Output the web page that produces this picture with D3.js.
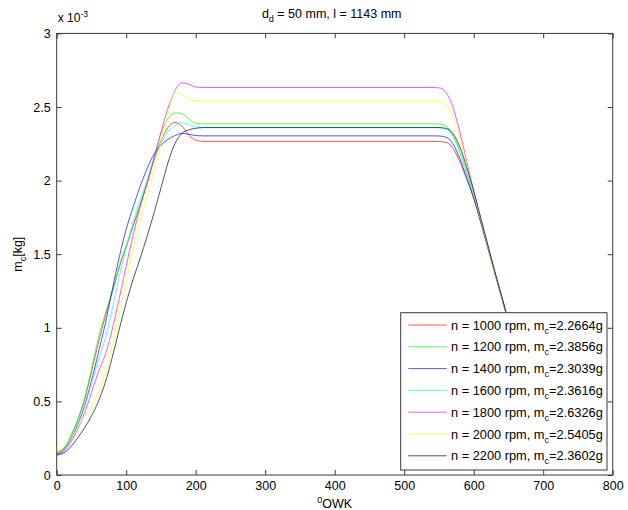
<!DOCTYPE html>
<html>
<head>
<meta charset="utf-8">
<script src="https://cdn.jsdelivr.net/npm/d3@7"></script>
<style>
  html, body { margin: 0; padding: 0; background: #fff; }
  svg { display: block; font-family: "Liberation Sans", Arial, Helvetica, sans-serif; }
</style>
</head>
<body>
<svg id="chart" width="628" height="510"></svg>
<script>
// Crank angle grid (degrees) at which cylinder charge mass is sampled
const crankAngle = [0,10,20,30,40,50,60,70,80,90,100,110,120,130,140,150,160,170,180,190,200,210,
                    540,550,560,570,580,590,600,610,620,630,640,650,660,670,680,690,700,710];

const speeds = [1000, 1200, 1400, 1600, 1800, 2000, 2200];   // rpm
const chargeMass = [2.2664, 2.3856, 2.3039, 2.3616, 2.6326, 2.5405, 2.3602]; // g, final trapped mass
const lineColors = ["#ff0000", "#00ff00", "#0000ff", "#00ffff", "#ff00ff", "#ffff00", "#000000"];

// Charge mass in units of 1e-3 kg, one array per engine speed
const m1000 = [0.15,0.18,0.26,0.37,0.51,0.70,0.90,1.08,1.24,1.41,1.55,1.69,1.83,1.98,2.14,2.27,2.36,2.395,2.37,2.31,2.275,2.2664,
               2.2664,2.265,2.26,2.22,2.13,2.01,1.88,1.72,1.55,1.38,1.21,1.04,0.87,0.70,0.54,0.39,0.26,0.16];
const m1200 = [0.15,0.18,0.26,0.37,0.52,0.72,0.93,1.10,1.25,1.42,1.56,1.70,1.84,1.99,2.16,2.32,2.42,2.46,2.455,2.42,2.39,2.3856,
               2.3856,2.385,2.37,2.31,2.20,2.06,1.90,1.73,1.56,1.38,1.21,1.04,0.87,0.70,0.54,0.39,0.26,0.16];
const m1400 = [0.14,0.17,0.24,0.34,0.47,0.64,0.83,1.03,1.26,1.48,1.67,1.82,1.96,2.08,2.18,2.24,2.28,2.305,2.32,2.315,2.306,2.3039,
               2.3039,2.303,2.295,2.25,2.15,2.02,1.88,1.72,1.55,1.38,1.21,1.04,0.87,0.70,0.54,0.39,0.26,0.16];
const m1600 = [0.14,0.17,0.24,0.34,0.46,0.62,0.78,0.93,1.13,1.35,1.54,1.72,1.87,2.00,2.14,2.25,2.33,2.375,2.393,2.38,2.365,2.3616,
               2.3616,2.36,2.35,2.30,2.19,2.05,1.90,1.73,1.56,1.39,1.22,1.05,0.88,0.71,0.55,0.40,0.27,0.17];
const m1800 = [0.14,0.16,0.22,0.31,0.42,0.56,0.70,0.82,0.99,1.20,1.42,1.63,1.82,1.98,2.15,2.33,2.49,2.61,2.665,2.655,2.636,2.6326,
               2.6326,2.63,2.60,2.50,2.33,2.13,1.93,1.74,1.56,1.38,1.21,1.04,0.87,0.70,0.54,0.39,0.26,0.16];
const m2000 = [0.16,0.19,0.25,0.32,0.40,0.47,0.56,0.70,0.88,1.10,1.32,1.54,1.72,1.90,2.07,2.26,2.45,2.605,2.585,2.555,2.543,2.5405,
               2.5405,2.538,2.52,2.44,2.29,2.11,1.92,1.74,1.56,1.38,1.21,1.04,0.87,0.70,0.54,0.39,0.26,0.16];
const m2200 = [0.135,0.15,0.19,0.25,0.32,0.40,0.50,0.63,0.80,0.99,1.17,1.33,1.47,1.62,1.78,1.95,2.12,2.25,2.32,2.345,2.355,2.3602,
               2.3602,2.36,2.355,2.32,2.23,2.09,1.93,1.75,1.57,1.39,1.22,1.05,0.88,0.71,0.55,0.40,0.27,0.17];
const massSeries = [m1000, m1200, m1400, m1600, m1800, m2000, m2200];

const xTicks = [0,100,200,300,400,500,600,700,800];
const yTicks = [0,0.5,1,1.5,2,2.5,3];
const yTickLabels = ["0","0.5","1","1.5","2","2.5","3"];

const svg = d3.select("#chart");
const plot = { left: 56.7, right: 612.7, top: 33.4, bottom: 475 };

const x = d3.scaleLinear().domain([0, 800]).range([plot.left, plot.right]);
const y = d3.scaleLinear().domain([0, 3]).range([plot.bottom, plot.top]);

const axisColor = "#3a3a3a";
const tickFont = 12.5;

// clip so curves stay within the axes box
svg.append("defs").append("clipPath").attr("id", "plotClip")
  .append("rect")
  .attr("x", plot.left).attr("y", plot.top)
  .attr("width", plot.right - plot.left).attr("height", plot.bottom - plot.top);

// curves
const line = d3.line()
  .x((d, i) => x(crankAngle[i]))
  .y(d => y(d))
  .curve(d3.curveMonotoneX);

svg.append("g").attr("clip-path", "url(#plotClip)")
  .selectAll("path")
  .data(massSeries)
  .join("path")
  .attr("fill", "none")
  .attr("stroke", (d, i) => lineColors[i])
  .attr("stroke-width", 0.9)
  .attr("stroke-opacity", 0.75)
  .attr("d", line);

// axes with inward ticks on all four sides
function styleAxis(g) {
  g.select(".domain").remove();
  g.selectAll(".tick line").attr("stroke", axisColor);
  g.selectAll(".tick text").attr("fill", "#000").attr("font-size", tickFont)
    .attr("font-family", "\"Liberation Sans\", Arial, sans-serif");
}

svg.append("g").attr("transform", `translate(0,${plot.bottom})`)
  .call(d3.axisBottom(x).tickValues(xTicks).tickSizeInner(-5).tickSizeOuter(0).tickPadding(6).tickFormat(d3.format("d")))
  .call(styleAxis);
svg.append("g").attr("transform", `translate(0,${plot.top})`)
  .call(d3.axisTop(x).tickValues(xTicks).tickSizeInner(-5).tickSizeOuter(0).tickFormat(""))
  .call(styleAxis);
svg.append("g").attr("transform", `translate(${plot.left},0)`)
  .call(d3.axisLeft(y).tickValues(yTicks).tickSizeInner(-5).tickSizeOuter(0).tickPadding(6)
        .tickFormat((d, i) => yTickLabels[i]))
  .call(styleAxis);
svg.append("g").attr("transform", `translate(${plot.right},0)`)
  .call(d3.axisRight(y).tickValues(yTicks).tickSizeInner(-5).tickSizeOuter(0).tickFormat(""))
  .call(styleAxis);

// axes box
svg.append("rect")
  .attr("x", plot.left).attr("y", plot.top)
  .attr("width", plot.right - plot.left).attr("height", plot.bottom - plot.top)
  .attr("fill", "none").attr("stroke", axisColor).attr("stroke-width", 1);

// exponent label above the y axis
const expo = svg.append("text").attr("x", plot.left + 1).attr("y", 22).attr("font-size", 12);
expo.append("tspan").text("x 10");
expo.append("tspan").attr("dy", -5).attr("font-size", 8.5).text("-3");

// title
const title = svg.append("text").attr("x", (plot.left + plot.right) / 2 - 3).attr("y", 18)
  .attr("text-anchor", "middle").attr("font-size", 12.5);
title.append("tspan").text("d");
title.append("tspan").attr("dy", 4).attr("font-size", 9).text("d");
title.append("tspan").attr("dy", -4).text(" = 50 mm, l = 1143 mm");

// x axis label
const xLab = svg.append("text").attr("x", (plot.left + plot.right) / 2).attr("y", 508)
  .attr("text-anchor", "middle").attr("font-size", 12.5);
xLab.append("tspan").attr("font-size", 9).attr("dy", -5).text("0");
xLab.append("tspan").attr("dy", 5).text("OWK");

// y axis label
const yLab = svg.append("text")
  .attr("transform", `translate(22,${(plot.top + plot.bottom) / 2}) rotate(-90)`)
  .attr("text-anchor", "middle").attr("font-size", 12.5);
yLab.append("tspan").text("m");
yLab.append("tspan").attr("dy", 4).attr("font-size", 9).text("c");
yLab.append("tspan").attr("dy", -4).text("[kg]");

// legend
const legend = { x: 400.7, y: 312.7, w: 206.3, h: 157.3, row0: 325, rowStep: 21.8 };
svg.append("rect")
  .attr("x", legend.x).attr("y", legend.y).attr("width", legend.w).attr("height", legend.h)
  .attr("fill", "#fff").attr("stroke", axisColor).attr("stroke-width", 1);

const rows = svg.append("g").selectAll("g")
  .data(speeds)
  .join("g")
  .attr("transform", (d, i) => `translate(0,${legend.row0 + i * legend.rowStep})`);

rows.append("line")
  .attr("x1", 408.3).attr("x2", 446.7).attr("y1", 0).attr("y2", 0)
  .attr("stroke", (d, i) => lineColors[i]).attr("stroke-width", 0.9).attr("stroke-opacity", 0.75);

rows.each(function (d, i) {
  const t = d3.select(this).append("text").attr("x", 451).attr("y", 4.5).attr("font-size", 12.8);
  t.append("tspan").text(`n = ${d} rpm, m`);
  t.append("tspan").attr("dy", 4).attr("font-size", 9).text("c");
  t.append("tspan").attr("dy", -4).text(`=${chargeMass[i].toFixed(4)}g`);
});
</script>
</body>
</html>
